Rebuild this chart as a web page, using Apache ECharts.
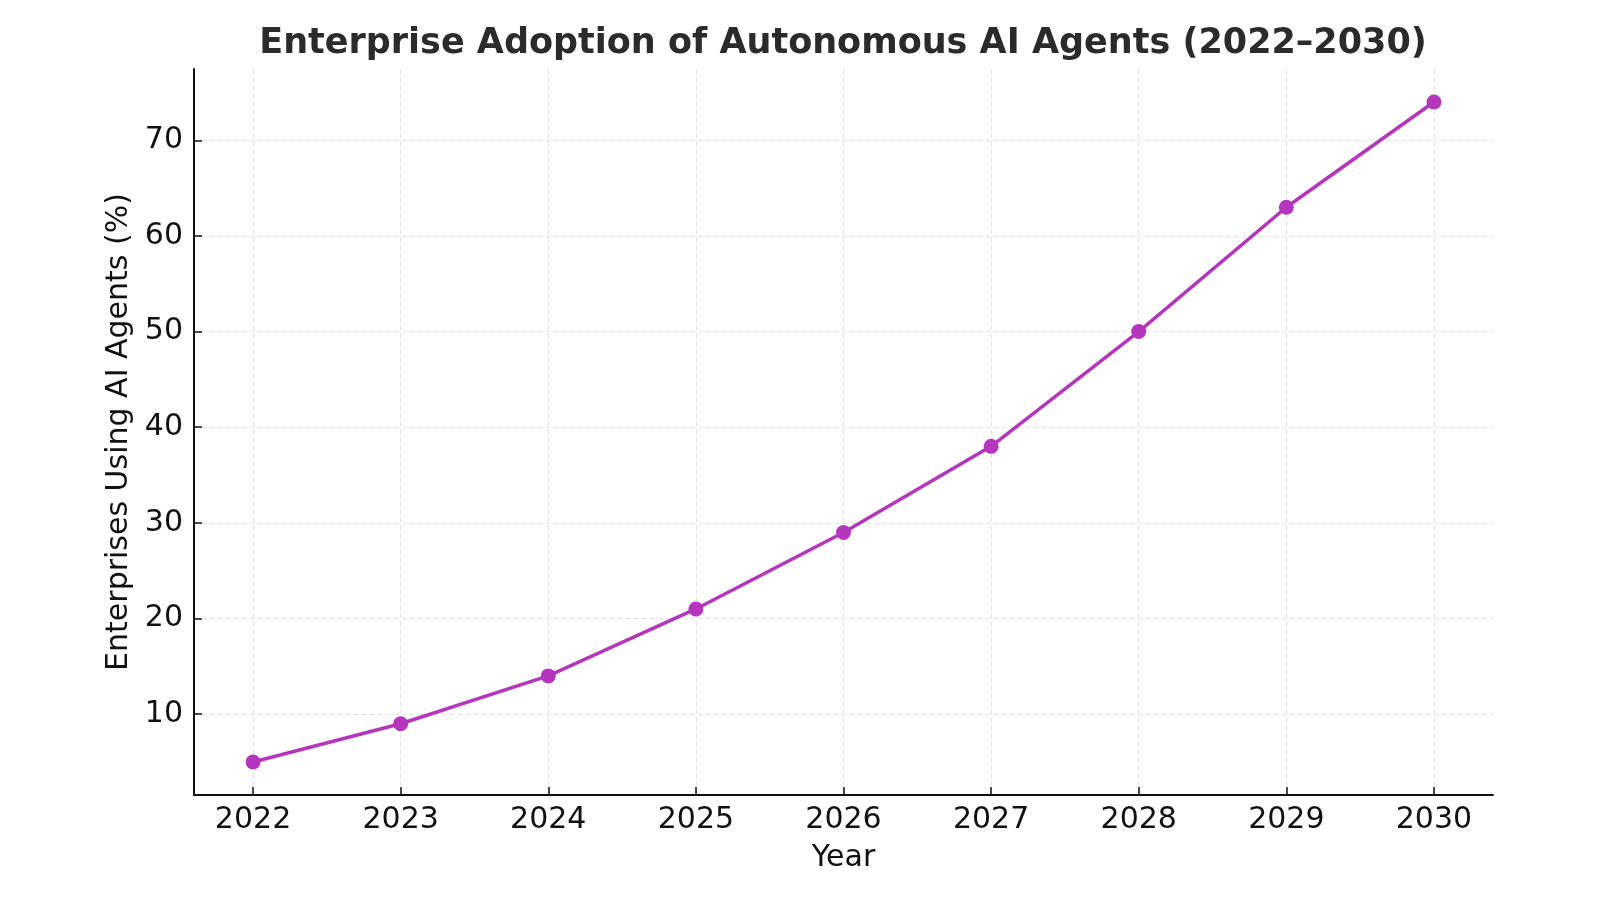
<!DOCTYPE html>
<html>
<head>
<meta charset="utf-8">
<script src="https://cdn.jsdelivr.net/npm/echarts@6/dist/echarts.min.js"></script>
<style>
html, body { margin: 0; padding: 0; background: #fff; }
#chart { width: 1600px; height: 900px; }
</style>
</head>
<body>
<div id="chart"></div>
<script>
var years = [2022, 2023, 2024, 2025, 2026, 2027, 2028, 2029, 2030];
var adoption = [5, 9, 14, 21, 29, 38, 50, 63, 74];
var yTicks = [10, 20, 30, 40, 50, 60, 70];

var points = [];
for (var i = 0; i < years.length; i++) {
    points.push([years[i], adoption[i]]);
}

var chart = echarts.init(document.getElementById("chart"));

var gridLine = {show: true, lineStyle: {color: '#e3e3e3', width: 1, type: [5, 3]}};
var font = 'DejaVu Sans';

chart.setOption({
    animation: false,
    title: {
        text: 'Enterprise Adoption of Autonomous AI Agents (2022\u20132030)',
        left: 838, top: 21, textAlign: 'center',
        textStyle: {fontFamily: font, fontSize: 35, fontWeight: 'bold', color: '#2b2b2b'}
    },
    grid: {left: 194, right: 107, top: 69, bottom: 105, containLabel: false},
    xAxis: {
        type: 'value', min: 2021.6, max: 2030.4,
        name: 'Year', nameLocation: 'middle', nameGap: 48,
        nameTextStyle: {fontFamily: font, fontSize: 30, color: '#111'},
        axisLine: {show: true, lineStyle: {color: '#111', width: 2}},
        axisTick: {show: true, inside: true, length: 8, customValues: years, lineStyle: {color: '#111', width: 1.5}},
        axisLabel: {customValues: years, margin: 10, fontFamily: font, fontSize: 30, color: '#111',
            formatter: function (v) { return String(v); }},
        splitLine: gridLine
    },
    yAxis: {
        type: 'value', min: 1.55, max: 77.45,
        name: 'Enterprises Using AI Agents (%)', nameLocation: 'middle', nameGap: 56,
        nameTextStyle: {fontFamily: font, fontSize: 30, color: '#111'},
        axisLine: {show: true, lineStyle: {color: '#111', width: 2}},
        axisTick: {show: true, inside: true, length: 8, customValues: yTicks, lineStyle: {color: '#111', width: 1.5}},
        axisLabel: {customValues: yTicks, margin: 11, fontFamily: font, fontSize: 30, color: '#111'},
        splitLine: gridLine
    },
    series: [{
        name: 'Adoption',
        type: 'line',
        data: points,
        symbol: 'circle',
        symbolSize: 15,
        lineStyle: {color: '#b536bd', width: 3.5},
        itemStyle: {color: '#b536bd'}
    }]
});
</script>
</body>
</html>
